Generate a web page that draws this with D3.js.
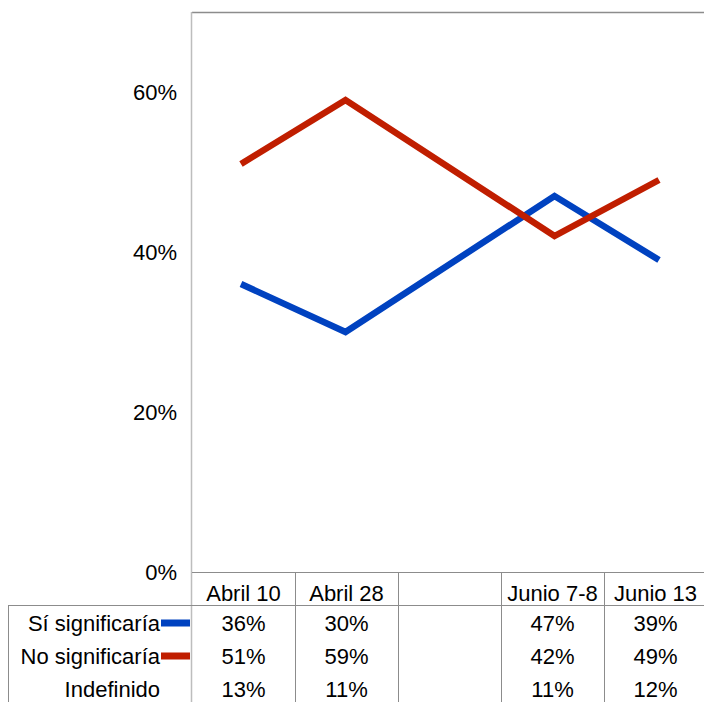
<!DOCTYPE html>
<html><head><meta charset="utf-8">
<script src="https://cdn.jsdelivr.net/npm/d3@7"></script>
<style>body{margin:0;background:#fff}svg{display:block}text{font-family:"Liberation Sans",Arial,sans-serif;font-size:22px;fill:#000}</style>
</head><body>
<script>
const categories = ["Abril 10", "Abril 28", "", "Junio 7-8", "Junio 13"];
const siValues = [36, 30, null, 47, 39];
const noValues = [51, 59, null, 42, 49];
const indefValues = [13, 11, null, 11, 12];
const seriesNames = ["Sí significaría", "No significaría", "Indefinido"];
const seriesColors = ["#0042c0", "#c01e00", null];
const yTicks = [0, 20, 40, 60];

(function () {
const W = 704, H = 702;
const svg = d3.select("body").append("svg").attr("width", W).attr("height", H);
const pLeft = 192, pRight = 707, pTop = 12, pBottom = 572;
const x = d3.scaleBand().domain(d3.range(categories.length)).range([pLeft, pRight]);
const xp = d3.scalePoint().domain(d3.range(categories.length)).range([241, 659]);
const y = d3.scaleLinear().domain([0, 70]).range([pBottom, pTop]);

// plot frame
svg.append("line").attr("x1", pLeft).attr("x2", W).attr("y1", pTop + 0.5).attr("y2", pTop + 0.5).attr("stroke", "#8c8c8c").attr("stroke-width", 1.5);
svg.append("line").attr("x1", pLeft - 0.5).attr("x2", pLeft - 0.5).attr("y1", pTop).attr("y2", H).attr("stroke", "#bdbdbd").attr("stroke-width", 1.5);

// y axis labels
const yAxis = d3.axisLeft(y).tickValues(yTicks).tickFormat(d => d + "%").tickSize(0).tickPadding(15);
const gy = svg.append("g").attr("transform", `translate(${pLeft},0)`).call(yAxis);
gy.select(".domain").remove();
gy.selectAll("text").style("font-size", "22px").style("font-family", '"Liberation Sans",Arial,sans-serif').attr("fill", "#000").attr("dy", "0.36em");

// table lines
const tableLine = "#8c8c8c";
svg.append("line").attr("x1", pLeft).attr("x2", W).attr("y1", 572.5).attr("y2", 572.5).attr("stroke", tableLine);
svg.append("line").attr("x1", 8).attr("x2", W).attr("y1", 605.5).attr("y2", 605.5).attr("stroke", tableLine);
svg.append("line").attr("x1", 8.5).attr("x2", 8.5).attr("y1", 605).attr("y2", H).attr("stroke", tableLine);
categories.forEach((c, i) => {
  if (i === 0) return;
  const xx = Math.round(x(i)) + 0.5;
  svg.append("line").attr("x1", xx).attr("x2", xx).attr("y1", 572).attr("y2", H).attr("stroke", tableLine);
});

// header labels
svg.append("g").selectAll("text").data(categories).join("text")
  .attr("x", (d, i) => x(i) + x.bandwidth() / 2).attr("y", 601)
  .attr("text-anchor", "middle").text(d => d);

// lines
const allSeries = [siValues, noValues];
const line = d3.line().x(d => xp(d.i)).y(d => y(d.v));
allSeries.forEach((vals, k) => {
  const pts = vals.map((v, i) => ({ i, v })).filter(d => d.v != null);
  svg.append("path").datum(pts).attr("d", line).attr("fill", "none")
    .attr("stroke", seriesColors[k]).attr("stroke-width", 6.5).attr("stroke-linejoin", "miter");
});

// table rows
const rows = [siValues, noValues, indefValues];
const rowY = [631, 664, 697];
rows.forEach((vals, r) => {
  svg.append("text").attr("x", 160).attr("y", rowY[r]).attr("text-anchor", "end").text(seriesNames[r]);
  if (seriesColors[r]) {
    svg.append("rect").attr("x", 161).attr("y", rowY[r] - 11.5).attr("width", 29).attr("height", 7).attr("fill", seriesColors[r]);
  }
  svg.append("g").selectAll("text").data(vals).join("text")
    .attr("x", (d, i) => x(i) + x.bandwidth() / 2).attr("y", rowY[r])
    .attr("text-anchor", "middle").text(d => d == null ? "" : d + "%");
});
})();
</script>
</body></html>
